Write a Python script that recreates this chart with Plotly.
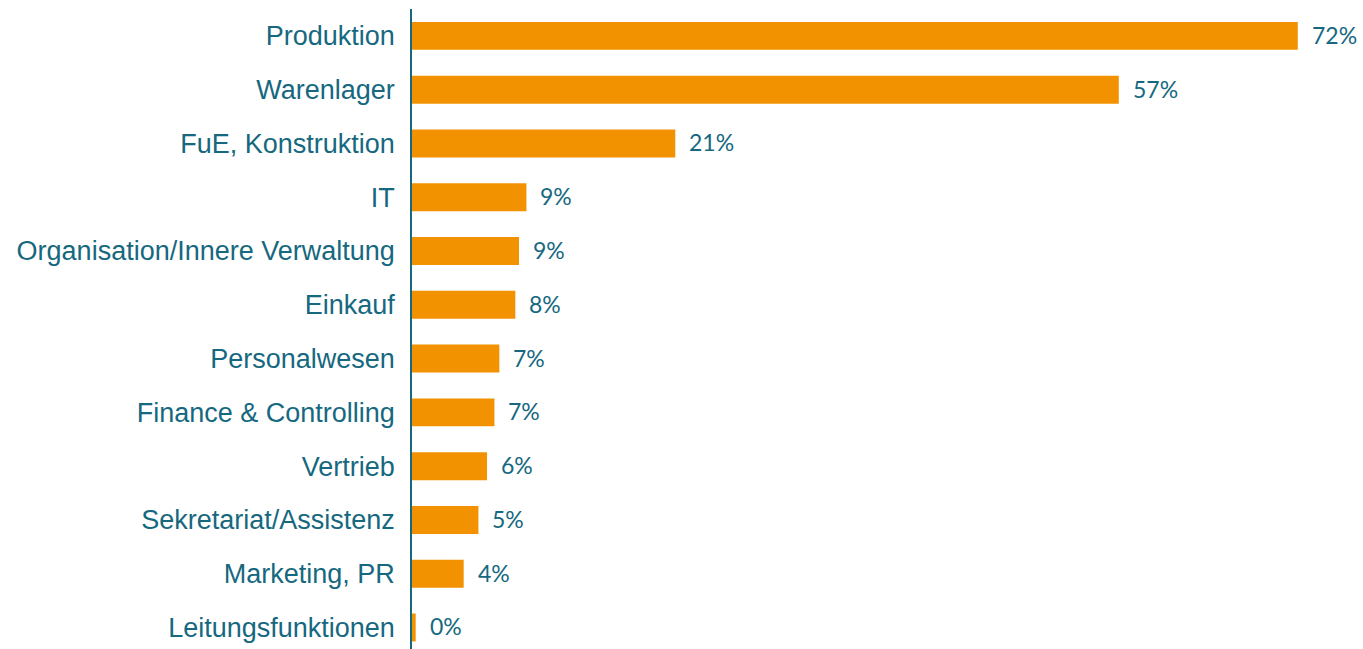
import plotly.graph_objects as go

# Share of mentions per department (percent)
bereiche = [
    "Produktion", "Warenlager", "FuE, Konstruktion", "IT",
    "Organisation/Innere Verwaltung", "Einkauf", "Personalwesen",
    "Finance & Controlling", "Vertrieb", "Sekretariat/Assistenz",
    "Marketing, PR", "Leitungsfunktionen",
]
anteile = [72.0, 57.45, 21.4, 9.3, 8.7, 8.4, 7.1, 6.7, 6.1, 5.4, 4.2, 0.3]

TEAL = "#16687f"
ORANGE = "#F39200"

fig = go.Figure(
    go.Bar(
        x=anteile,
        y=bereiche,
        orientation="h",
        marker=dict(color=ORANGE, line=dict(width=0)),
        width=0.52,
        hoverinfo="skip",
    )
)

# Percentage labels to the right of each bar
for name, val in zip(bereiche, anteile):
    fig.add_annotation(
        x=val, y=name, text=f"{val:.0f}%",
        xanchor="left", yanchor="middle", xshift=12, yshift=1,
        showarrow=False,
        font=dict(family="Lato", size=23, color=TEAL),
    )

fig.update_layout(
    width=1363, height=649,
    margin=dict(l=412, r=0, t=9, b=0),
    paper_bgcolor="white", plot_bgcolor="white",
    showlegend=False,
    xaxis=dict(range=[0, 77.3], visible=False, fixedrange=True),
    yaxis=dict(
        type="category",
        range=[11.4, -0.5],
        showline=True, linecolor=TEAL, linewidth=1.5,
        showgrid=False, zeroline=False, ticks="",
        ticklabelstandoff=10,
        tickfont=dict(family="Liberation Sans, Arial", size=27, color=TEAL),
    ),
)

fig.write_html("out.html")
